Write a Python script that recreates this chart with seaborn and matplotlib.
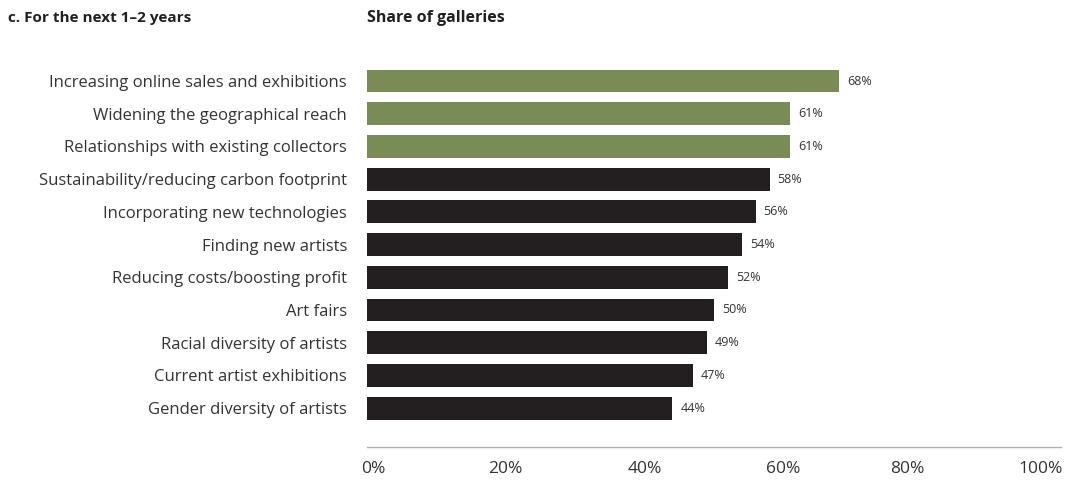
import matplotlib
matplotlib.use("Agg")
import matplotlib.pyplot as plt
import matplotlib.transforms as mtransforms
import seaborn as sns
import pandas as pd

categories = [
    "Increasing online sales and exhibitions",
    "Widening the geographical reach",
    "Relationships with existing collectors",
    "Sustainability/reducing carbon footprint",
    "Incorporating new technologies",
    "Finding new artists",
    "Reducing costs/boosting profit",
    "Art fairs",
    "Racial diversity of artists",
    "Current artist exhibitions",
    "Gender diversity of artists",
]
values = [68, 61, 61, 58, 56, 54, 52, 50, 49, 47, 44]
groups = ["top", "top", "top", "rest", "rest", "rest", "rest", "rest", "rest", "rest", "rest"]
tick_values = [0, 20, 40, 60, 80, 100]
tick_labels = ["0%", "20%", "40%", "60%", "80%", "100%"]

sns.set_theme(style="white")
plt.rcParams["font.family"] = ["Open Sans", "DejaVu Sans"]

df = pd.DataFrame({"category": categories, "value": values, "group": groups})

fig = plt.figure(figsize=(10.8, 4.82), dpi=100)
ax = fig.add_axes([367 / 1080, 1 - 447 / 482, (1061 - 367) / 1080, (447 - 65) / 482])

sns.barplot(data=df, x="value", y="category", hue="group",
            palette={"top": "#7a8c55", "rest": "#231f20"},
            dodge=False, width=0.7, legend=False, ax=ax, saturation=1,
            edgecolor="none")

for i, v in enumerate(values):
    ax.text(v + 1.15, i, f"{v}%", va="center", ha="left", fontsize=9, color="#333333")

ax.set_xlim(0, 100)
ax.set_ylim(11.19, -0.49)
ax.set_xlabel("")
ax.set_ylabel("")
ax.set_xticks(tick_values)
ax.set_xticklabels(tick_labels, fontsize=12.5, color="#333333")
ax.tick_params(axis="x", length=0, pad=10)
ax.tick_params(axis="y", length=0, pad=14.4, labelsize=12, labelcolor="#333333")

xt = ax.get_xticklabels()
xt[-1].set_horizontalalignment("right")
xt[-1].set_transform(xt[-1].get_transform() + mtransforms.ScaledTranslation(2 / 100, 0, fig.dpi_scale_trans))
xt[-2].set_transform(xt[-2].get_transform() + mtransforms.ScaledTranslation(-15 / 100, 0, fig.dpi_scale_trans))
xt[0].set_transform(xt[0].get_transform() + mtransforms.ScaledTranslation(6 / 100, 0, fig.dpi_scale_trans))

for s in ["top", "right", "left"]:
    ax.spines[s].set_visible(False)
ax.spines["bottom"].set_color("#b0b0b0")
ax.spines["bottom"].set_linewidth(1)
ax.grid(False)

fig.text(8 / 1080, 1 - 18 / 482, "c. For the next 1–2 years", fontsize=11, fontweight="bold",
         color="#231f20", va="center", ha="left")
fig.text(367 / 1080, 1 - 18 / 482, "Share of galleries", fontsize=11.5, fontweight="bold",
         color="#231f20", va="center", ha="left")

fig.savefig("out.png", dpi=100)
